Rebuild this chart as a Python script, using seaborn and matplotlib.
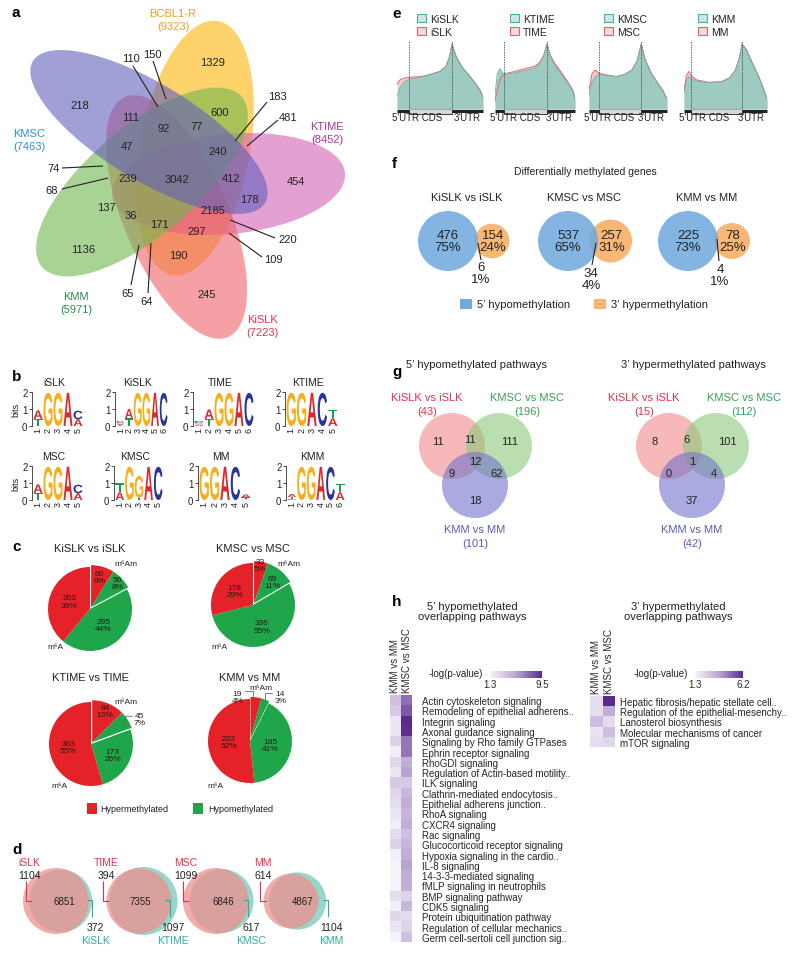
import numpy as np
import pandas as pd
import matplotlib
matplotlib.use("Agg")
import matplotlib.pyplot as plt
import seaborn as sns
from matplotlib.patches import Ellipse, Circle, Rectangle, PathPatch
from matplotlib.textpath import TextPath
from matplotlib.font_manager import FontProperties
from matplotlib.colors import LinearSegmentedColormap
import matplotlib.transforms as mtransforms

sns.set_theme(style="white")
plt.rcParams['font.family'] = ['Liberation Sans', 'DejaVu Sans']

# ---------------- data ----------------
# a: five-way overlap of m6A genes
venn5_sets = ['BCBL1-R', 'KTIME', 'KiSLK', 'KMM', 'KMSC']
venn5_sizes = [9323, 8452, 7223, 5971, 7463]
venn5_counts = [1329, 110, 150, 218, 111, 92, 77, 600, 183, 481, 47, 240, 74, 239, 3042,
                412, 454, 68, 137, 36, 2185, 178, 171, 297, 220, 109, 1136, 190, 65, 64, 245]

# b: motif logos, columns bottom -> top (letter, bits)
logo_names = ['iSLK', 'KiSLK', 'TIME', 'KTIME', 'MSC', 'KMSC', 'MM', 'KMM']
logo_cols = [
    [[('T', 0.42), ('A', 0.5)], [('G', 1.95)], [('G', 1.95)], [('A', 1.95)], [('A', 0.4), ('C', 0.5)]],
    [[('T', 0.05), ('A', 0.07), ('G', 0.08), ('C', 0.1)], [('T', 0.45), ('A', 0.55)], [('G', 1.95)],
     [('G', 1.95)], [('A', 1.95)], [('C', 1.95)]],
    [[('A', 0.08), ('G', 0.1), ('C', 0.12)], [('T', 0.42), ('A', 0.55)], [('G', 1.95)],
     [('G', 1.95)], [('A', 1.95)], [('C', 1.95)]],
    [[('G', 1.95)], [('G', 1.95)], [('A', 1.95)], [('C', 1.95)], [('A', 0.45), ('T', 0.5)]],
    [[('T', 0.42), ('A', 0.5)], [('G', 1.95)], [('G', 1.95)], [('A', 1.95)], [('A', 0.4), ('C', 0.5)]],
    [[('A', 0.45), ('T', 0.55)], [('G', 1.95)], [('T', 0.12), ('G', 1.3)], [('A', 1.95)], [('C', 1.95)]],
    [[('G', 1.95)], [('G', 1.95)], [('A', 1.95)], [('C', 1.95)], [('G', 0.05), ('T', 0.1), ('A', 0.18)]],
    [[('C', 0.05), ('T', 0.12), ('A', 0.18)], [('G', 1.95)], [('G', 1.95)], [('A', 1.95)],
     [('C', 1.95)], [('A', 0.45), ('T', 0.5)]],
]

# c: differential peaks (hyper m6Am, hypo m6Am, hypo m6A, hyper m6A)
pie_titles = ['KiSLK vs iSLK', 'KMSC vs MSC', 'KTIME vs TIME', 'KMM vs MM']
pie_hyper_m6am = [60, 33, 84, 19]
pie_hypo_m6am = [56, 69, 45, 14]
pie_hypo_m6a = [295, 336, 173, 185]
pie_hyper_m6a = [263, 178, 363, 233]

# d: mock vs infected overlap
d_mock = ['iSLK', 'TIME', 'MSC', 'MM']
d_inf = ['KiSLK', 'KTIME', 'KMSC', 'KMM']
d_only_mock = [1104, 394, 1099, 614]
d_shared = [6851, 7355, 6846, 4867]
d_only_inf = [372, 1097, 617, 1104]

# e: metagene profiles (position along transcript 0-1, relative density)
e_utr5_end = [0.14, 0.11, 0.13, 0.085]
e_cds_end = [0.64, 0.65, 0.67, 0.70]
e_x = [
    [0, 0.035, 0.09, 0.14, 0.27, 0.38, 0.5, 0.57, 0.61, 0.64, 0.69, 0.76, 0.85, 0.92, 0.97, 1.0],
    [0, 0.03, 0.06, 0.11, 0.25, 0.4, 0.5, 0.56, 0.61, 0.65, 0.69, 0.75, 0.85, 0.93, 0.98, 1.0],
    [0, 0.04, 0.08, 0.13, 0.25, 0.35, 0.45, 0.55, 0.62, 0.67, 0.72, 0.8, 0.88, 0.95, 0.98, 1.0],
    [0, 0.03, 0.06, 0.085, 0.15, 0.3, 0.45, 0.55, 0.62, 0.67, 0.7, 0.75, 0.82, 0.9, 0.96, 1.0],
]
e_infected = [
    [0.2, 0.33, 0.42, 0.46, 0.49, 0.53, 0.58, 0.66, 0.8, 1.0, 0.8, 0.64, 0.5, 0.38, 0.28, 0.18],
    [0.22, 0.55, 0.62, 0.53, 0.56, 0.6, 0.63, 0.7, 0.82, 1.0, 0.82, 0.67, 0.5, 0.36, 0.25, 0.15],
    [0.22, 0.42, 0.5, 0.53, 0.52, 0.5, 0.53, 0.6, 0.75, 1.0, 0.76, 0.55, 0.4, 0.28, 0.2, 0.15],
    [0.25, 0.45, 0.5, 0.47, 0.43, 0.41, 0.42, 0.48, 0.6, 0.8, 1.0, 0.92, 0.72, 0.5, 0.3, 0.15],
]
e_mock = [
    [0.38, 0.45, 0.48, 0.49, 0.5, 0.53, 0.58, 0.66, 0.8, 1.0, 0.8, 0.64, 0.5, 0.38, 0.28, 0.18],
    [0.12, 0.3, 0.45, 0.54, 0.58, 0.63, 0.66, 0.72, 0.83, 1.0, 0.83, 0.7, 0.53, 0.38, 0.27, 0.15],
    [0.3, 0.55, 0.6, 0.55, 0.52, 0.5, 0.53, 0.6, 0.75, 1.0, 0.76, 0.55, 0.4, 0.28, 0.2, 0.15],
    [0.3, 0.52, 0.58, 0.52, 0.45, 0.41, 0.42, 0.48, 0.6, 0.8, 1.0, 0.92, 0.72, 0.5, 0.3, 0.15],
]

# f: differentially methylated genes
f_titles = ['KiSLK vs iSLK', 'KMSC vs MSC', 'KMM vs MM']
f_hypo5 = [476, 537, 225]
f_hyper3 = [154, 257, 78]
f_both = [6, 34, 4]

# g: pathway overlaps (A, AB, B, ABC, AC, BC, C)
g_sets = ['KiSLK vs iSLK', 'KMSC vs MSC', 'KMM vs MM']
g_hypo_totals = [43, 196, 101]
g_hypo_regions = [11, 11, 111, 12, 9, 62, 18]
g_hyper_totals = [15, 112, 42]
g_hyper_regions = [8, 6, 101, 1, 0, 4, 37]

# h: overlapping pathways, -log(p-value)
h5_paths = ['Actin cytoskeleton signaling', 'Remodeling of epithelial adherens..', 'Integrin signaling',
            'Axonal guidance signaling', 'Signaling by Rho family GTPases', 'Ephrin receptor signaling',
            'RhoGDI signaling', 'Regulation of Actin-based motility..', 'ILK signaling',
            'Clathrin-mediated endocytosis..', 'Epithelial adherens junction..', 'RhoA signaling',
            'CXCR4 signaling', 'Rac signaling', 'Glucocorticoid receptor signaling',
            'Hypoxia signaling in the cardio..', 'IL-8 signaling', '14-3-3-mediated signaling',
            'fMLP signaling in neutrophils', 'BMP signaling pathway', 'CDK5 signaling',
            'Protein ubiquitination pathway', 'Regulation of cellular mechanics..',
            'Germ cell-sertoli cell junction sig..']
h5_kmm = [4.0, 3.5, 2.0, 2.0, 3.0, 1.6, 2.8, 2.0, 3.5, 2.8, 2.5, 2.0,
          1.6, 2.5, 3.0, 1.5, 1.3, 1.3, 1.3, 2.5, 1.5, 2.8, 2.0, 1.3]
h5_kmsc = [7.2, 8.0, 9.5, 9.3, 7.0, 7.0, 5.0, 5.5, 3.5, 4.5, 5.0, 4.5,
           5.0, 4.0, 4.5, 5.0, 5.5, 5.0, 5.0, 3.0, 4.5, 2.5, 3.0, 4.0]
h3_paths = ['Hepatic fibrosis/hepatic stellate cell..', 'Regulation of the epithelial-mesenchy..',
            'Lanosterol biosynthesis', 'Molecular mechanisms of cancer', 'mTOR signaling']
h3_kmm = [2.0, 2.0, 3.0, 1.8, 2.0]
h3_kmsc = [6.2, 3.5, 2.0, 3.0, 2.2]

# ---------------- figure ----------------
W, H = 800, 954
fig = plt.figure(figsize=(W / 100, H / 100), dpi=100)
canvas = fig.add_axes([0, 0, 1, 1])
canvas.set_xlim(0, W)
canvas.set_ylim(H, 0)
canvas.axis('off')

RED_T = '#E5304A'
GREEN_T = '#34A05A'
PURPLE_T = '#5A5AB8'
TEAL_T = '#2BAE9E'


def px_axes(x0, y0, w, h):
    ax = fig.add_axes([x0 / W, 1 - (y0 + h) / H, w / W, h / H])
    ax.patch.set_alpha(0)
    return ax


def txt(x, y, s, size=7, color='#222222', ha='center', va='center', **kw):
    canvas.text(x, y, s, fontsize=size, color=color, ha=ha, va=va, **kw)


def seg(pts, color='#222222', lw=0.8):
    xs, ys = zip(*pts)
    canvas.plot(xs, ys, color=color, lw=lw, solid_capstyle='butt')


def lens_area(r1, r2, d):
    if d >= r1 + r2:
        return 0.0
    if d <= abs(r1 - r2):
        return np.pi * min(r1, r2) ** 2
    a1 = r1 ** 2 * np.arccos((d ** 2 + r1 ** 2 - r2 ** 2) / (2 * d * r1))
    a2 = r2 ** 2 * np.arccos((d ** 2 + r2 ** 2 - r1 ** 2) / (2 * d * r2))
    a3 = 0.5 * np.sqrt((-d + r1 + r2) * (d + r1 - r2) * (d - r1 + r2) * (d + r1 + r2))
    return a1 + a2 - a3


def solve_dist(r1, r2, target):
    lo, hi = abs(r1 - r2), r1 + r2
    for _ in range(60):
        mid = (lo + hi) / 2
        if lens_area(r1, r2, mid) > target:
            lo = mid
        else:
            hi = mid
    return (lo + hi) / 2


for lab, (x, y) in zip('abcdefgh', [(12, 13), (12, 377), (12, 547), (12, 850),
                                     (392, 14), (392, 164), (392, 372), (392, 602)]):
    txt(x, y, lab, size=11, color='black', weight='bold', ha='left')

# ---------------- a ----------------
venn5_shapes = [((218, 22), (172, 276), 110), ((345, 174), (112, 196), 100),
                ((125, 98), (228, 338), 105), ((42, 268), (242, 98), 108),
                ((33, 62), (265, 204), 96)]
venn5_fill = ['#FCB508', '#D561B4', '#ED6167', '#70B74E', '#615FBB']
for (p1, p2, minor), col in zip(venn5_shapes, venn5_fill):
    cx, cy = (p1[0] + p2[0]) / 2, (p1[1] + p2[1]) / 2
    L = np.hypot(p2[0] - p1[0], p2[1] - p1[1])
    ang = np.degrees(np.arctan2(p2[1] - p1[1], p2[0] - p1[0]))
    canvas.add_patch(Ellipse((cx, cy), L, minor, angle=ang, fc=col, ec='none', alpha=0.6))

venn5_pos = [(213, 63), (131, 59), (152, 55), (80, 106), (131, 118), (164, 129), (197, 127),
             (220, 113), (277, 97), (288, 118), (127, 147), (218, 152), (54, 169), (128, 179),
             (177, 180), (231, 179), (296, 182), (52, 191), (106, 208), (131, 216), (213, 211),
             (249, 200), (159, 225), (197, 232), (288, 240), (273, 260), (83, 250), (178, 256),
             (128, 294), (147, 302), (207, 295)]
for n, (x, y) in zip(venn5_counts, venn5_pos):
    txt(x, y, str(n), size=8)
for pts in [[(133, 67), (158, 108)], [(153, 62), (166, 100)], [(267, 103), (235, 142)],
            [(278, 121), (247, 147)], [(62, 169), (103, 167)], [(62, 190), (108, 179)],
            [(275, 239), (230, 221)], [(262, 258), (229, 234)], [(131, 286), (139, 246)],
            [(148, 294), (151, 244)]]:
    seg(pts, lw=0.8)
venn5_lab = [(173, 14), (327, 127), (262, 320), (76, 297), (29, 134)]
venn5_col = ['#F39C2A', '#A8329A', RED_T, '#2E8B57', '#2F8FD8']
for name, size, (x, y), c in zip(venn5_sets, venn5_sizes, venn5_lab, venn5_col):
    txt(x, y, name, size=8, color=c)
    txt(x, y + 13, f'({size})', size=8, color=c)

# ---------------- b ----------------
LOGO_COLORS = {'A': '#DA2A2F', 'C': '#26359E', 'G': '#F8AE1B', 'T': '#1E9B4A'}
logo_fp = FontProperties(family='Liberation Sans', weight='bold')


def draw_letter(ax, ch, x, y, h):
    tp = TextPath((0, 0), ch, size=1, prop=logo_fp)
    bb = tp.get_extents()
    w = 0.9
    t = (mtransforms.Affine2D().translate(-bb.x0, -bb.y0)
         .scale(w / bb.width, h / bb.height).translate(x - w / 2, y))
    ax.add_patch(PathPatch(t.transform_path(tp), fc=LOGO_COLORS[ch], ec='none', lw=0))


logo_boxes = [(33, 393, 50), (116, 393, 52), (194, 393, 60), (286, 393, 52),
              (33, 467, 50), (115, 467, 48), (199, 467, 52), (287, 467, 58)]
for name, cols, (x0, y0, w) in zip(logo_names, logo_cols, logo_boxes):
    ax = px_axes(x0, y0, w, 34)
    for i, col in enumerate(cols):
        base = 0
        for ch, hgt in col:
            draw_letter(ax, ch, i + 1, base, hgt)
            base += hgt
    ax.set_xlim(0.5, len(cols) + 0.5)
    ax.set_ylim(0, 2)
    for s in ['top', 'right', 'bottom']:
        ax.spines[s].set_visible(False)
    ax.spines['left'].set_color('#333333')
    ax.spines['left'].set_linewidth(0.6)
    ax.spines['left'].set_position(('outward', 1))
    ax.set_yticks([0, 1, 2])
    ax.set_yticklabels(['0', '1', '2'])
    ax.set_xticks(range(1, len(cols) + 1))
    ax.set_xticklabels([str(i) for i in range(1, len(cols) + 1)], rotation=90)
    ax.tick_params(axis='y', length=2, width=0.6, pad=1, labelsize=7, left=True)
    ax.tick_params(axis='x', length=0, pad=0.5, labelsize=6.5)
    txt(x0 + w / 2 - 4, y0 - 10, name, size=7.5)
txt(16, 410, 'bits', size=6.5, rotation=90)
txt(16, 484, 'bits', size=6.5, rotation=90)

# ---------------- c ----------------
PIE_RED = '#E52228'
PIE_GREEN = '#1FA64B'
pie_centers = [(90, 610), (253, 606), (91, 745), (250, 742)]
pie_r = 42
pie_title_y = [549, 549, 678, 678]
pie_label_r = [[0.8, 0.9, 0.5, 0.52], [0.97, 0.72, 0.55, 0.55], [0.85, None, 0.58, 0.55],
               [None, None, 0.5, 0.5]]
pie_outside = {(2, 1): ((1.15, 0.6), [(0.79, 0.43), (0.83, 0.66), (0.98, 0.66)]),
               (3, 0): ((-0.3, 1.05), [(-0.12, 1.19), (0.08, 1.19), (0.08, 1.03)]),
               (3, 1): ((0.72, 1.05), [(0.52, 1.14), (0.36, 1.14), (0.36, 1.0)])}
pie_m6am_pos = [(126, 565), (289, 565), (126, 703), (261, 689)]
pie_m6a_pos = [(55, 648), (219, 648), (59, 787), (215, 787)]
pr = 1.45
for k in range(4):
    vals = [pie_hyper_m6am[k], pie_hypo_m6am[k], pie_hypo_m6a[k], pie_hyper_m6a[k]]
    total = sum(vals)
    cx, cy = pie_centers[k]
    ax = px_axes(cx - pr * pie_r, cy - pr * pie_r, 2 * pr * pie_r, 2 * pr * pie_r)
    cols = [PIE_RED, PIE_GREEN, PIE_GREEN, PIE_RED]
    grp = (vals[0] + vals[1]) / total
    mid = np.deg2rad(90 - grp * 180)
    off = 0.05
    w1, _ = ax.pie(vals, colors=cols, startangle=90, counterclock=False, radius=1,
                   wedgeprops=dict(lw=0))
    w2, _ = ax.pie(vals, colors=cols, startangle=90, counterclock=False, radius=1,
                   center=(off * np.cos(mid), off * np.sin(mid)), wedgeprops=dict(lw=0))
    for w in w1[:2]:
        w.set_visible(False)
    for w in w2[2:]:
        w.set_visible(False)
    ax.set_xlim(-pr, pr)
    ax.set_ylim(-pr, pr)
    ax.set_aspect('equal')
    ax.axis('off')
    cum = 0
    for i, v in enumerate(vals):
        a = np.deg2rad(90 - (cum + v / 2) / total * 360)
        cum += v
        lab = f'{v}\n{100 * v / total:.0f}%'
        if (k, i) in pie_outside:
            (tx, ty), lead = pie_outside[(k, i)]
            ax.text(tx, ty, lab, fontsize=6, ha='center', va='center', color='#222222',
                    linespacing=1.0)
            lx, ly = zip(*lead)
            ax.plot(lx, ly, color='#666666', lw=0.6)
        else:
            rf = pie_label_r[k][i]
            ax.text(rf * np.cos(a), rf * np.sin(a), lab, fontsize=6, ha='center', va='center',
                    color='#2a1a1a', linespacing=1.05)
    txt(cx, pie_title_y[k], pie_titles[k], size=8)
    txt(*pie_m6am_pos[k], 'm⁶Am', size=6)
    txt(*pie_m6a_pos[k], 'm⁶A', size=6)
canvas.add_patch(Rectangle((87, 804), 10, 11, fc=PIE_RED, ec='none'))
txt(100, 810, 'Hypermethylated', size=6.5, ha='left')
canvas.add_patch(Rectangle((193, 804), 10, 11, fc=PIE_GREEN, ec='none'))
txt(208, 810, 'Hypomethylated', size=6.5, ha='left')

# ---------------- d ----------------
d_k = 0.37
d_mock_x = [56, 139, 216, 291]
d_text_x = [64, 140, 223, 303]
d_left_x = [29, 106, 186, 263]
d_right_x = [93, 171, 249, 329]
cy = 902
for i in range(4):
    ra = d_k * np.sqrt(d_only_mock[i] + d_shared[i])
    rb = d_k * np.sqrt(d_only_inf[i] + d_shared[i])
    dist = solve_dist(ra, rb, np.pi * d_k ** 2 * d_shared[i])
    xa = d_mock_x[i]
    canvas.add_patch(Circle((xa + dist, cy), rb, fc='#7FCBBF', ec='none', alpha=0.8))
    canvas.add_patch(Circle((xa, cy), ra, fc='#EE9090', ec='none', alpha=0.75))
    txt(d_text_x[i], cy, str(d_shared[i]), size=7)
    lx = d_left_x[i]
    txt(lx, 863, d_mock[i], size=7.5, color=RED_T)
    txt(lx, 876, str(d_only_mock[i]), size=7.5)
    seg([(lx - 3, 882), (lx - 3, 902), (lx + 3, 902)], color=RED_T, lw=0.8)
    rx = d_right_x[i]
    seg([(rx - 6, 901), (rx - 1, 901), (rx - 1, 918)], color=TEAL_T, lw=0.8)
    txt(rx + 2, 928, str(d_only_inf[i]), size=7.5)
    txt(rx + 2, 941, d_inf[i], size=7.5, color=TEAL_T)

# ---------------- e ----------------
e_boxes = [(397, 86), (495, 80), (589, 78), (684, 83)]
e_legend_x = [417, 510, 604, 698]
e_inf_names = ['KiSLK', 'KTIME', 'KMSC', 'KMM']
e_mock_names = ['iSLK', 'TIME', 'MSC', 'MM']
for i in range(4):
    x0, w = e_boxes[i]
    ax = px_axes(x0, 42, w, 68)
    x = np.array(e_x[i])
    ax.fill_between(x, 0, e_mock[i], color='#F8C8CB', lw=0)
    ax.fill_between(x, 0, e_infected[i], color='#99CCC1', lw=0, alpha=0.95)
    ax.plot(x, e_mock[i], color='#EF6B76', lw=0.8)
    ax.plot(x, e_infected[i], color='#6BB5A7', lw=0.7)
    for b in [e_utr5_end[i], e_cds_end[i]]:
        ax.axvline(b, color='#333333', lw=0.6, ls=(0, (1, 1)))
    ax.set_xlim(0, 1)
    ax.set_ylim(0, 1.05)
    ax.axis('off')
    seg([(x0, 112), (x0 + w, 112)], color='#222222', lw=2.2)
    bx1 = x0 + e_utr5_end[i] * w
    bx2 = x0 + e_cds_end[i] * w
    canvas.add_patch(Rectangle((bx1, 110), bx2 - bx1, 4.5, fc='#D8D8D8', ec='#222222', lw=0.6,
                               zorder=3))
    txt(x0 - 5, 118, "5'UTR CDS", size=7, ha='left')
    txt(x0 + w - 2, 118, "3'UTR", size=7, ha='right')
    lx = e_legend_x[i]
    canvas.add_patch(Rectangle((lx, 15), 9, 8, fc='#CBE8E2', ec='#3FB3A2', lw=0.8))
    canvas.add_patch(Rectangle((lx, 28), 9, 8, fc='#F8DADC', ec='#EF5A68', lw=0.8))
    txt(lx + 13, 20, e_inf_names[i], size=7.5, ha='left')
    txt(lx + 13, 33, e_mock_names[i], size=7.5, ha='left')

# ---------------- f ----------------
txt(585, 172, 'Differentially methylated genes', size=7.5)
f_title_x = [467, 584, 707]
f_blue_x = [448, 568, 688]
f_r = 30
f_lead = [[(478, 244), (481, 261)], [(596, 244), (592, 266)], [(717, 240), (719, 262)]]
f_ov_text = [(481, 274), (591, 280), (720, 276)]
for i in range(3):
    nb = f_hypo5[i] + f_both[i]
    no = f_hyper3[i] + f_both[i]
    tot = f_hypo5[i] + f_hyper3[i] + f_both[i]
    rb = f_r
    ro = f_r * np.sqrt(no / nb)
    dist = solve_dist(rb, ro, np.pi * rb ** 2 * f_both[i] / nb)
    cx = f_blue_x[i]
    canvas.add_patch(Circle((cx + dist, 242), ro, fc='#F8B36E', ec='none', alpha=0.95))
    canvas.add_patch(Circle((cx, 242), rb, fc='#6FA8DD', ec='none', alpha=0.85))
    txt(cx, 242, f'{f_hypo5[i]}\n{100 * f_hypo5[i] / tot:.0f}%', size=9.5, linespacing=1.0)
    txt(cx + dist + 1, 242, f'{f_hyper3[i]}\n{100 * f_hyper3[i] / tot:.0f}%', size=9.5,
        linespacing=1.0)
    seg(f_lead[i], lw=0.8)
    txt(*f_ov_text[i], f'{f_both[i]}\n{100 * f_both[i] / tot:.0f}%', size=9.5, linespacing=1.0)
    txt(f_title_x[i], 198, f_titles[i], size=8)
canvas.add_patch(Rectangle((460, 300), 12, 10, fc='#6FA8DD', ec='none'))
txt(477, 305, '5’ hypomethylation', size=8, ha='left')
canvas.add_patch(Rectangle((594, 300), 12, 10, fc='#F8B36E', ec='none'))
txt(611, 305, '3’ hypermethylation', size=8, ha='left')

# ---------------- g ----------------
g_cx = [475, 692]
g_titles = ['5’ hypomethylated pathways', '3’ hypermethylated pathways']
g_offsets = [(-37, -5), (-5, -7), (35, -5), (0, 15), (-23, 27), (22, 27), (0, 54)]
g_r = 33
for j, (totals, regions) in enumerate([(g_hypo_totals, g_hypo_regions),
                                       (g_hyper_totals, g_hyper_regions)]):
    cx = g_cx[j]
    txt(cx + 1, 365, g_titles[j], size=8)
    for (dx, dy), col in zip([(-23, 447), (24, 447), (0, 486)], ['#F08A8A', '#8CC97A', '#7272CC']):
        canvas.add_patch(Circle((cx + dx, dy), g_r, fc=col, ec='none', alpha=0.6))
    for n, (dx, dy) in zip(regions, g_offsets):
        txt(cx + dx, 447 + dy, str(n), size=8)
    for (dx, y), name, tot, c in zip([(-48, 398), (52, 398), (0, 530)], g_sets, totals,
                                     [RED_T, GREEN_T, PURPLE_T]):
        txt(cx + dx, y, name, size=8, color=c)
        txt(cx + dx, y + 14, f'({tot})', size=8, color=c)

# ---------------- h ----------------
pur = LinearSegmentedColormap.from_list('pur', ['#F6F3F9', '#B9A6D2', '#5A2A8C'])
txt(472, 612, '5’ hypomethylated\noverlapping pathways', size=8, linespacing=1.1)
txt(678, 612, '3’ hypermethylated\noverlapping pathways', size=8, linespacing=1.1)
h_specs = [(h5_paths, h5_kmm, h5_kmsc, (390, 696, 22, 247), (490, 672, 52, 7), 9.5, 7.5, 483),
           (h3_paths, h3_kmm, h3_kmsc, (590, 697, 25, 51), (695, 672, 48, 7), 6.2, 3.5, 688)]
for paths, kmm, kmsc, box, cbox, vmax, pad, lab_x in h_specs:
    df = pd.DataFrame({'KMM vs MM': kmm, 'KMSC vs MSC': kmsc}, index=paths)
    ax = px_axes(*box)
    cax = px_axes(*cbox)
    sns.heatmap(df, ax=ax, cmap=pur, vmin=1.3, vmax=vmax, cbar_ax=cax,
                xticklabels=True, yticklabels=True,
                cbar_kws={'orientation': 'horizontal', 'ticks': [1.3, vmax]})
    ax.yaxis.tick_right()
    ax.tick_params(axis='y', length=0, pad=pad, labelsize=7, labelrotation=0)
    ax.xaxis.tick_top()
    ax.tick_params(axis='x', length=0, pad=2, labelsize=7, labelrotation=90)
    ax.set_ylabel('')
    cb = ax.collections[0].colorbar
    cb.outline.set_visible(False)
    cax.tick_params(axis='x', length=0, pad=0.5, labelsize=7)
    txt(lab_x, 674, '-log(p-value)', size=7, ha='right')

fig.savefig('out.png', dpi=100)
